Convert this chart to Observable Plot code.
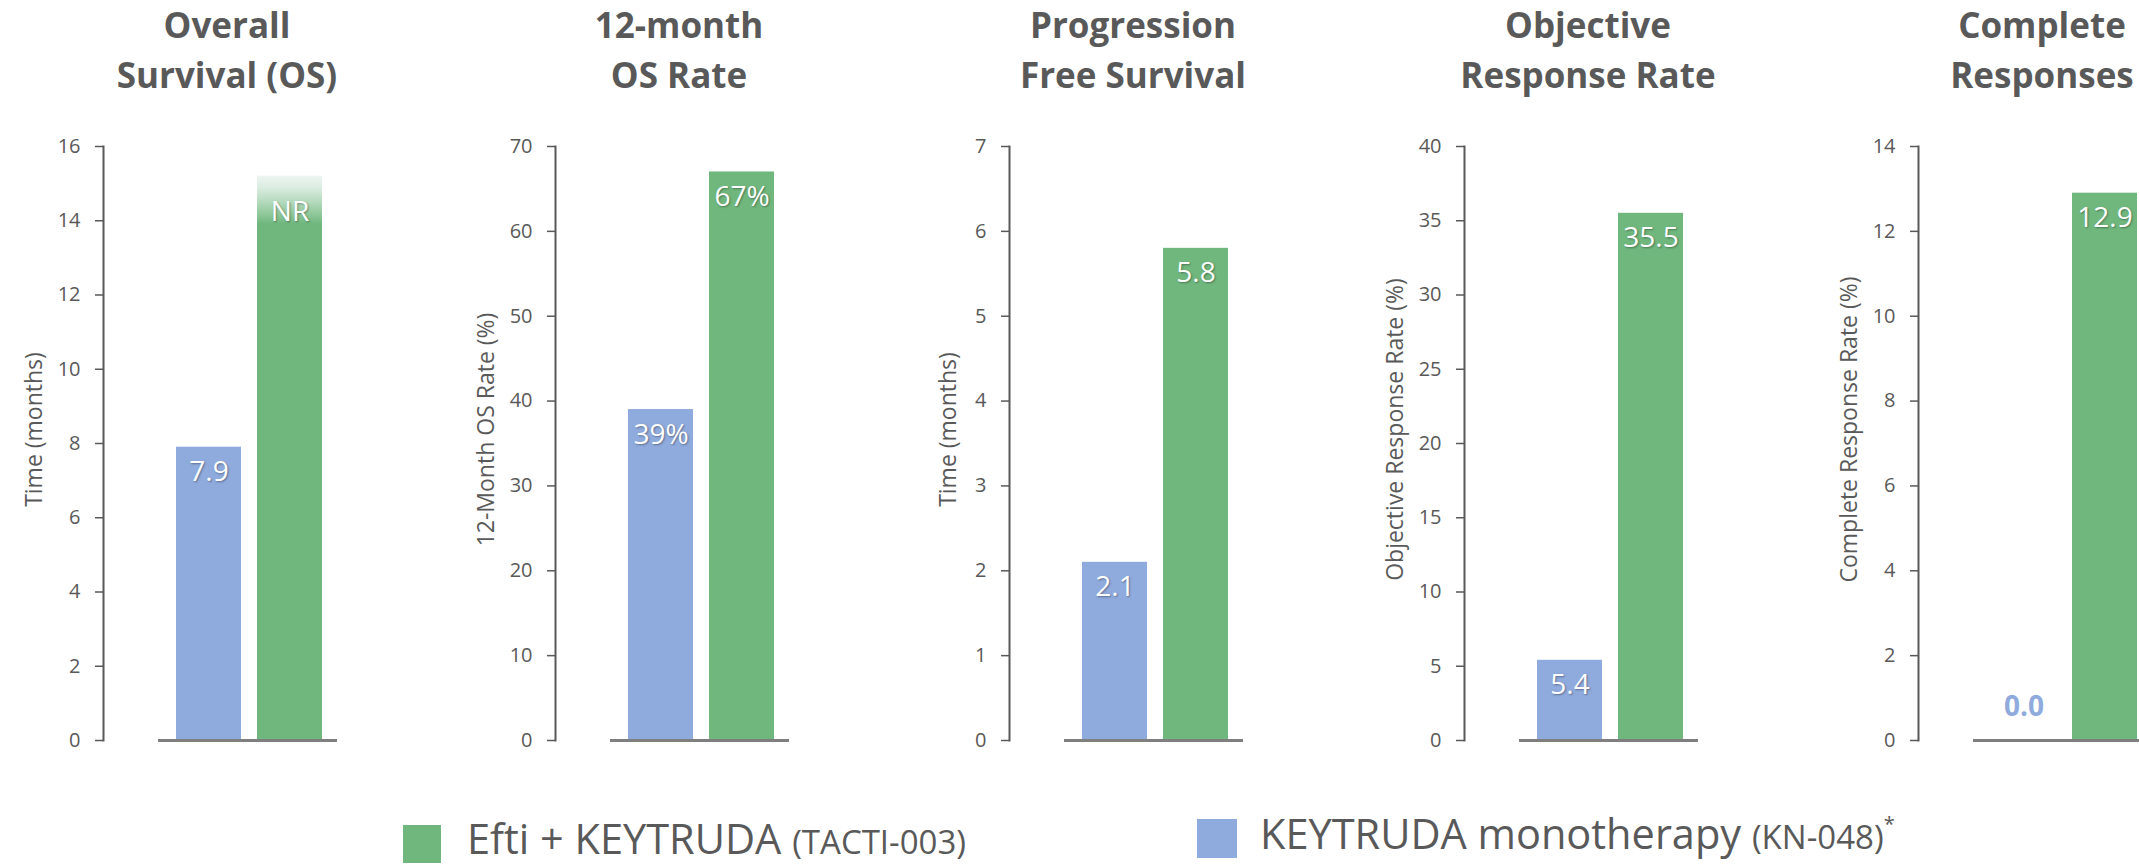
<!DOCTYPE html>
<html>
<head>
<meta charset="utf-8">
<script src="https://cdn.jsdelivr.net/npm/d3@7"></script>
<script src="https://cdn.jsdelivr.net/npm/@observablehq/plot@0.6"></script>
<style>
  html, body { margin: 0; padding: 0; background: #ffffff; }
  #chart { position: relative; width: 2139px; height: 866px; overflow: hidden; background: #ffffff;
           font-family: 'Open Sans', sans-serif; color: #595959; }
  .panel { position: absolute; top: 0; width: 454px; height: 866px; }
  .title { position: absolute; top: 0; left: 0; width: 454px; text-align: center; font-weight: 700;
           font-size: 35px; line-height: 50px; color: #595959; white-space: nowrap; }
  .plot { position: absolute; top: 100px; left: 0; }
  g[fill="white"] text { text-shadow: 1px 1px 2px rgba(0,0,0,0.35); }
  .legend-item { position: absolute; white-space: nowrap; color: #595959; }
  .swatch { position: absolute; }
</style>
</head>
<body>
<svg width="0" height="0" style="position:absolute">
  <defs>
    <linearGradient id="nrFade" x1="0" y1="0" x2="0" y2="1">
      <stop offset="0" stop-color="#eef5f2"/>
      <stop offset="0.02" stop-color="#dcede2"/>
      <stop offset="0.045" stop-color="#b6dbbe"/>
      <stop offset="0.07" stop-color="#8cc697"/>
      <stop offset="0.085" stop-color="#70b77e"/>
      <stop offset="1" stop-color="#70b77e"/>
    </linearGradient>
  </defs>
</svg>
<div id="chart"></div>
<script>
// ---------------- DATA ----------------
const titleLines = [
  ["Overall", "Survival (OS)"],
  ["12-month", "OS Rate"],
  ["Progression", "Free Survival"],
  ["Objective", "Response Rate"],
  ["Complete", "Responses"]
];
const yAxisLabels = [
  "Time (months)",
  "12-Month OS Rate (%)",
  "Time (months)",
  "Objective Response Rate (%)",
  "Complete Response Rate (%)"
];
const seriesNames = ["KEYTRUDA monotherapy", "Efti + KEYTRUDA"];
const keytrudaValues = [7.9, 39, 2.1, 5.4, 0.0];
const eftiValues = [15.2, 67, 5.8, 35.5, 12.9];
const keytrudaLabels = ["7.9", "39%", "2.1", "5.4", "0.0"];
const eftiLabels = ["NR", "67%", "5.8", "35.5", "12.9"];
const yTicks = [
  [0, 2, 4, 6, 8, 10, 12, 14, 16],
  [0, 10, 20, 30, 40, 50, 60, 70],
  [0, 1, 2, 3, 4, 5, 6, 7],
  [0, 5, 10, 15, 20, 25, 30, 35, 40],
  [0, 2, 4, 6, 8, 10, 12, 14]
];

// ---------------- STYLE / LAYOUT ----------------
const BLUE = "#8faadc";
const GREEN = "#70b77e";
const GRAY = "#595959";
const panelLeft = [0, 452, 906, 1361, 1815];

const chart = document.getElementById("chart");

titleLines.forEach((lines, i) => {
  const panel = document.createElement("div");
  panel.className = "panel";
  panel.style.left = panelLeft[i] + "px";

  const title = document.createElement("div");
  title.className = "title";
  title.innerHTML = lines.join("<br>");
  panel.appendChild(title);

  const rows = [
    {series: seriesNames[0], value: keytrudaValues[i], label: keytrudaLabels[i]},
    {series: seriesNames[1], value: eftiValues[i], label: eftiLabels[i]}
  ];
  const ticks = yTicks[i];
  const nChars = d3.max(ticks, t => String(t).length);

  const svg = Plot.plot({
    width: 454,
    height: 680,
    marginLeft: 103,
    marginRight: 117,
    marginTop: 46,
    marginBottom: 40,
    style: {fontFamily: "'Open Sans', sans-serif", fontSize: "20px", color: GRAY, background: "transparent", overflow: "visible"},
    x: {domain: seriesNames, paddingInner: 0.195, paddingOuter: 0.5245, align: 0.826, axis: null},
    y: {domain: [0, d3.max(ticks)]},
    color: {domain: seriesNames, range: [BLUE, GREEN]},
    marks: [
      Plot.barY(rows.filter(d => d.label !== "NR"), {x: "series", y: "value", fill: "series"}),
      Plot.barY(rows.filter(d => d.label === "NR"), {x: "series", y: "value", fill: "url(#nrFade)"}),
      Plot.ruleY([0], {insetLeft: 55, stroke: "#7f7f7f", strokeWidth: 3}),
      Plot.frame({anchor: "left", stroke: GRAY, strokeWidth: 2}),
      Plot.axisY(ticks, {tickSize: 8, tickPadding: 15, strokeWidth: 1.5, fontSize: 20, label: null,
        tickFormat: d => String(d)}),
      Plot.text([yAxisLabels[i]], {text: d => d, frameAnchor: "left", rotate: -90, textAnchor: "middle",
        dx: -(53 + 8 * nChars), dy: -14, fontSize: 23, fill: GRAY}),
      Plot.text(rows.filter(d => d.value > 0 && d.label !== "NR"),
        {x: "series", y: "value", text: "label", dy: 25, fill: "white", fontSize: 28}),
      Plot.text(rows.filter(d => d.label === "NR"),
        {x: "series", y: "value", text: "label", dy: 36, fill: "white", fontSize: 28}),
      Plot.text(rows.filter(d => d.value === 0),
        {x: "series", y: "value", text: "label", dy: -33, fill: BLUE, fontSize: 28, fontWeight: "bold"})
    ]
  });
  const holder = document.createElement("div");
  holder.className = "plot";
  holder.appendChild(svg);
  panel.appendChild(holder);
  chart.appendChild(panel);
});

// ---------------- LEGEND ----------------
const legendItems = [
  {color: GREEN, main: "Efti + KEYTRUDA", sub: "(TACTI-003)", sup: "", sx: 403, sy: 825, sw: 38, sh: 38, tx: 467, baseline: 854},
  {color: BLUE, main: "KEYTRUDA monotherapy", sub: "(KN-048)", sup: "*", sx: 1197, sy: 819, sw: 40, sh: 39, tx: 1260, baseline: 849}
];
legendItems.forEach(it => {
  const sw = document.createElement("div");
  sw.className = "swatch";
  Object.assign(sw.style, {left: it.sx + "px", top: it.sy + "px", width: it.sw + "px", height: it.sh + "px", background: it.color});
  chart.appendChild(sw);
  const t = document.createElement("div");
  t.className = "legend-item";
  // line-height 41px, font 41.5px: baseline ~36px below top
  Object.assign(t.style, {left: it.tx + "px", top: (it.baseline - 36) + "px", fontSize: "41.5px", lineHeight: "41px"});
  t.innerHTML = `<span>${it.main}</span> <span style="font-size:33px">${it.sub}</span>` +
    (it.sup ? `<span style="font-size:20px;position:relative;top:-18px">${it.sup}</span>` : "");
  chart.appendChild(t);
});
</script>
</body>
</html>
